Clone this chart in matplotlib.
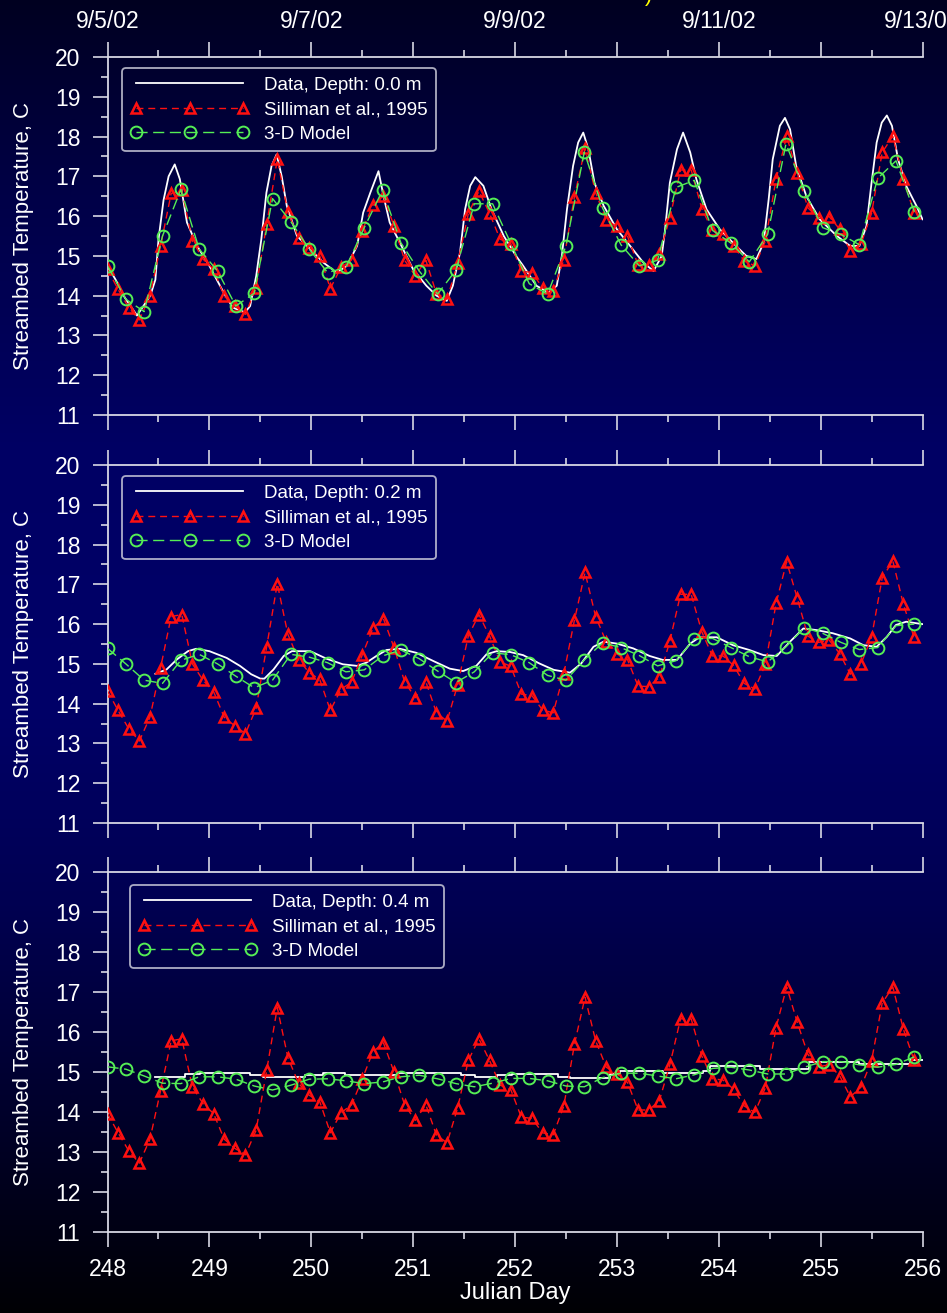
import numpy as np
import matplotlib
matplotlib.use("Agg")
import matplotlib.pyplot as plt
from matplotlib.lines import Line2D
from matplotlib.ticker import MultipleLocator

plt.rcParams['font.family'] = ['Liberation Sans', 'DejaVu Sans']

# ---------------- data ----------------
# Silliman et al. (1995) model, one point every 2.5 h from day 248
t_sil = 248 + np.arange(77) * 2.5 / 24
# 3-D model, one point every 0.18 day from day 248
t_mod = 248 + np.arange(45) * 0.18

# depth 0.0 m
top_data_t = [248.0, 248.08, 248.17, 248.29, 248.42, 248.47, 248.5, 248.55, 248.6, 248.66, 248.71, 248.78,
              248.88, 249.0, 249.14, 249.23, 249.35, 249.4, 249.46, 249.51, 249.56, 249.61, 249.66, 249.71,
              249.76, 249.86, 249.99, 250.12, 250.25, 250.35, 250.45, 250.51, 250.58, 250.66, 250.71, 250.77,
              250.87, 251.0, 251.13, 251.23, 251.33, 251.39, 251.46, 251.51, 251.56, 251.61, 251.69, 251.77,
              251.89, 252.01, 252.08, 252.21, 252.33, 252.41, 252.46, 252.51, 252.57, 252.62, 252.67, 252.72,
              252.78, 252.87, 253.0, 253.13, 253.26, 253.36, 253.44, 253.47, 253.52, 253.59, 253.65, 253.72,
              253.78, 253.88, 254.01, 254.17, 254.27, 254.37, 254.44, 254.49, 254.53, 254.6, 254.65, 254.7,
              254.76, 254.86, 254.99, 255.16, 255.29, 255.38, 255.45, 255.5, 255.55, 255.6, 255.65, 255.7,
              255.76, 255.84, 255.94, 256.0]
top_data_T = [14.75, 14.4, 13.95, 13.5, 14.0, 14.4, 15.4, 16.4, 17.0, 17.3, 16.93, 15.84,
              15.25, 14.75, 14.08, 13.7, 13.58, 13.74, 14.5, 15.42, 16.59, 17.26, 17.55, 17.0,
              16.26, 15.5, 15.17, 14.83, 14.58, 14.75, 15.25, 16.09, 16.59, 17.13, 16.5, 15.84,
              15.33, 14.66, 14.25, 14.0, 13.87, 14.25, 15.08, 16.17, 16.76, 16.98, 16.76, 16.17,
              15.5, 15.0, 14.75, 14.25, 14.08, 14.25, 15.0, 16.17, 17.26, 17.85, 18.1, 17.68,
              16.84, 16.26, 15.67, 15.25, 14.83, 14.62, 15.0, 15.59, 16.84, 17.68, 18.1, 17.6,
              16.93, 16.17, 15.67, 15.25, 15.0, 14.92, 15.33, 16.42, 17.43, 18.27, 18.47, 18.18,
              17.26, 16.5, 15.92, 15.5, 15.25, 15.25, 15.75, 16.84, 17.85, 18.35, 18.53, 18.27,
              17.43, 16.76, 16.26, 15.92]
top_sil = [14.66, 14.16, 13.70, 13.39, 13.99, 15.25, 16.57, 16.65, 15.38, 14.92,
           14.66, 13.99, 13.74, 13.53, 14.2, 15.79, 17.43, 16.1, 15.46, 15.21,
           15.0, 14.18, 14.71, 14.9, 15.63, 16.27, 16.5, 15.75, 14.89, 14.5,
           14.89, 14.05, 13.91, 14.83, 16.06, 16.63, 16.07, 15.42, 15.31,
           14.62, 14.58, 14.2, 14.12, 14.9, 16.49, 17.7, 16.59, 15.9, 15.74,
           15.5, 14.77, 14.77, 15.04, 15.96, 17.16, 17.16, 16.19, 15.64, 15.54,
           15.25, 14.87, 14.75, 15.38, 16.93, 18.01, 17.08, 16.21, 15.94, 15.99,
           15.67, 15.12, 15.3, 16.07, 17.6, 18.01, 16.93, 16.09]
top_mod = [14.75, 13.91, 13.6, 15.5, 16.67, 15.17, 14.62, 13.74, 14.06, 16.44,
           15.86, 15.17, 14.58, 14.71, 15.71, 16.65, 15.33, 14.62, 14.04, 14.64,
           16.31, 16.31, 15.31, 14.3, 14.04, 15.25, 17.61, 16.2, 15.28, 14.75,
           14.89, 16.72, 16.9, 15.64, 15.32, 14.85, 15.54, 17.82, 16.63, 15.71,
           15.54, 15.28, 16.95, 17.39, 16.11]

# depth 0.2 m
mid_data_t = [248.47, 248.58, 248.68, 248.79, 248.87, 249.0, 249.17, 249.3, 249.41, 249.5, 249.54, 249.63,
              249.73, 249.81, 249.99, 250.15, 250.31, 250.45, 250.54, 250.64, 250.74, 250.87, 251.03, 251.2,
              251.36, 251.49, 251.62, 251.72, 251.82, 251.95, 252.08, 252.24, 252.38, 252.54, 252.65, 252.77,
              252.87, 253.0, 253.16, 253.32, 253.45, 253.59, 253.72, 253.81, 253.98, 254.14, 254.3, 254.44,
              254.57, 254.7, 254.83, 254.96, 255.12, 255.29, 255.42, 255.55, 255.65, 255.74, 255.84, 256.0]
mid_data_T = [14.75, 14.86, 15.11, 15.32, 15.38, 15.32, 15.15, 14.95, 14.74, 14.63, 14.63, 14.86,
              15.2, 15.32, 15.32, 15.13, 14.99, 14.95, 15.03, 15.2, 15.35, 15.38, 15.28, 15.07,
              14.88, 14.82, 14.95, 15.24, 15.32, 15.3, 15.22, 15.01, 14.85, 14.78, 15.01, 15.43,
              15.56, 15.51, 15.39, 15.2, 15.1, 15.1, 15.51, 15.67, 15.67, 15.47, 15.35, 15.22,
              15.2, 15.56, 15.89, 15.85, 15.77, 15.64, 15.47, 15.43, 15.68, 15.98, 16.06, 16.0]
mid_sil = [14.32, 13.83, 13.37, 13.06, 13.66, 14.9, 16.19, 16.24, 15.0, 14.59,
           14.3, 13.66, 13.44, 13.25, 13.88, 15.43, 17.02, 15.74, 15.11, 14.78,
           14.61, 13.83, 14.36, 14.54, 15.22, 15.89, 16.14, 15.41, 14.55, 14.15,
           14.55, 13.77, 13.56, 14.48, 15.7, 16.24, 15.7, 15.05, 14.94,
           14.24, 14.2, 13.84, 13.77, 14.75, 16.1, 17.3, 16.19, 15.55, 15.25,
           15.11, 14.44, 14.43, 14.66, 15.58, 16.75, 16.75, 15.81, 15.2, 15.2,
           14.96, 14.51, 14.37, 14.99, 16.52, 17.57, 16.65, 15.7, 15.54, 15.6,
           15.26, 14.74, 15.0, 15.67, 17.16, 17.59, 16.5, 15.67]
mid_mod = [15.39, 15.0, 14.59, 14.51, 15.09, 15.24, 15.0, 14.69, 14.4, 14.59,
           15.24, 15.17, 15.03, 14.8, 14.85, 15.2, 15.35, 15.13, 14.82, 14.53,
           14.8, 15.28, 15.23, 15.03, 14.71, 14.59, 15.1, 15.53, 15.41, 15.21,
           14.95, 15.08, 15.63, 15.64, 15.41, 15.18, 15.05, 15.43, 15.91, 15.77,
           15.54, 15.36, 15.41, 15.96, 16.0]

# depth 0.4 m
bot_data_t = [248.47, 248.76, 248.91, 249.40, 249.53, 249.94, 250.12, 250.33, 250.84, 251.47, 251.61, 251.82,
              251.97, 252.42, 252.54, 252.93, 253.03, 253.45, 253.85, 253.91, 254.40, 254.89, 255.38, 255.88,
              256.0]
bot_data_T = [14.88, 14.94, 14.98, 14.92, 14.88, 14.92, 14.98, 14.92, 14.98, 14.92, 14.88, 14.92,
              14.96, 14.88, 14.84, 14.95, 15.03, 14.97, 15.03, 15.15, 15.08, 15.26, 15.19, 15.3,
              15.3]
bot_sil = [13.96, 13.48, 13.03, 12.72, 13.32, 14.53, 15.78, 15.83, 14.63, 14.21,
           13.96, 13.32, 13.09, 12.93, 13.54, 15.04, 16.61, 15.36, 14.72, 14.42,
           14.26, 13.48, 13.98, 14.18, 14.82, 15.5, 15.73, 15.0, 14.18, 13.79,
           14.18, 13.42, 13.23, 14.11, 15.29, 15.83, 15.29, 14.67, 14.56,
           13.87, 13.84, 13.48, 13.43, 14.15, 15.69, 16.87, 15.78, 15.12, 14.95,
           14.74, 14.05, 14.05, 14.28, 15.19, 16.33, 16.33, 15.4, 14.83, 14.8,
           14.57, 14.15, 13.99, 14.61, 16.11, 17.13, 16.24, 15.44, 15.13, 15.18,
           14.9, 14.38, 14.62, 15.28, 16.72, 17.13, 16.07, 15.3]
bot_mod = [15.13, 15.07, 14.9, 14.72, 14.71, 14.88, 14.88, 14.82, 14.65, 14.55,
           14.67, 14.82, 14.83, 14.78, 14.71, 14.75, 14.88, 14.92, 14.83, 14.71,
           14.63, 14.72, 14.84, 14.84, 14.78, 14.65, 14.63, 14.86, 14.97, 14.97,
           14.9, 14.83, 14.93, 15.09, 15.12, 15.05, 14.95, 14.95, 15.12, 15.26,
           15.26, 15.18, 15.12, 15.19, 15.38]

depth_labels = ["Data, Depth: 0.0 m", "Data, Depth: 0.2 m", "Data, Depth: 0.4 m"]
sil_label = "Silliman et al., 1995"
mod_label = "3-D Model"
date_ticks = [248, 250, 252, 254, 256]
date_labels = ["9/5/02", "9/7/02", "9/9/02", "9/11/02", "9/13/02"]
ylabel = "Streambed Temperature, C"
xlabel = "Julian Day"

# ---------------- style ----------------
W, H = 947, 1313
fig = plt.figure(figsize=(W / 100, H / 100), dpi=100)

# background gradient
bg = fig.add_axes([0, 0, 1, 1], zorder=-10)
rows = np.arange(H)
stops_y = [0, 200, 450, 700, 900, 1100, 1313]
stops_b = [32, 72, 100, 104, 82, 45, 4]
blue = np.interp(rows, stops_y, stops_b) / 255.0
img = np.zeros((H, 1, 3))
img[:, 0, 2] = blue
bg.imshow(img, aspect='auto', extent=[0, 1, 0, 1], interpolation='bilinear')
bg.set_axis_off()

AXC = '#d8d8e4'
WHITE = '#ffffff'
RED = '#ff1010'
GREEN = '#55ee55'

sil_style = dict(color=RED, lw=1.0, dashes=(5, 3.5), marker='^', markersize=7.5,
                 markerfacecolor='none', markeredgecolor=RED, markeredgewidth=1.8)
mod_style = dict(color=GREEN, lw=1.0, dashes=(8, 4), marker='o', markersize=8.5,
                 markerfacecolor='none', markeredgecolor=GREEN, markeredgewidth=1.4)

left = 107.5 / W
width = 815 / W
panels = [(57, 415), (465, 823), (872, 1232)]
legend_anchor = [(0.018, 0.969), (0.018, 0.969), (0.0276, 0.964)]

datasets = [(top_data_t, top_data_T, top_sil, top_mod, 'default'),
            (mid_data_t, mid_data_T, mid_sil, mid_mod, 'default'),
            (bot_data_t, bot_data_T, bot_sil, bot_mod, 'steps-post')]

for i, ((ytop, ybot), (dt, dT, sil, mod, ds)) in enumerate(zip(panels, datasets)):
    ax = fig.add_axes([left, 1 - ybot / H, width, (ybot - ytop) / H])
    ax.set_facecolor('none')
    ax.plot(dt, dT, color=WHITE, lw=1.3, drawstyle=ds, zorder=3)
    ax.plot(t_sil, sil, zorder=4, **sil_style)
    ax.plot(t_mod, mod, zorder=5, **mod_style)
    ax.set_xlim(248, 256)
    ax.set_ylim(11, 20)
    ax.spines['right'].set_visible(False)
    for s in ['left', 'top', 'bottom']:
        ax.spines[s].set_color(AXC)
        ax.spines[s].set_linewidth(1.3)
    ax.xaxis.set_major_locator(MultipleLocator(1))
    ax.xaxis.set_minor_locator(MultipleLocator(0.5))
    ax.yaxis.set_major_locator(MultipleLocator(1))
    ax.yaxis.set_minor_locator(MultipleLocator(0.5))
    ax.tick_params(axis='both', which='major', direction='out', length=10.5, width=1.2, color=AXC,
                   labelcolor=WHITE, labelsize=16.5)
    ax.tick_params(axis='both', which='minor', direction='out', length=5, width=1.2, color=AXC)
    ax.tick_params(axis='x', which='both', top=True, bottom=True)
    ax.tick_params(axis='x', which='major', labeltop=False, labelbottom=(i == 2), pad=8)
    ax.tick_params(axis='y', which='major', pad=9)
    ax.set_ylabel(ylabel, color=WHITE, fontsize=16, labelpad=15)
    if i == 2:
        ax.set_xlabel(xlabel, color=WHITE, fontsize=17, labelpad=1)
    if i == 0:
        secx = ax.secondary_xaxis('top')
        secx.set_xticks(date_ticks)
        secx.set_xticklabels(date_labels)
        secx.tick_params(length=0, pad=17, labelcolor=WHITE, labelsize=16.5)
        secx.spines['top'].set_visible(False)
    handles = [Line2D([], [], color=WHITE, lw=1.3),
               Line2D([], [], **sil_style),
               Line2D([], [], **mod_style)]
    leg = ax.legend(handles, [depth_labels[i], sil_label, mod_label], loc='upper left',
                    bbox_to_anchor=legend_anchor[i], borderaxespad=0, numpoints=3,
                    handlelength=6.3, handletextpad=0.8, labelspacing=0.4, borderpad=0.45,
                    fontsize=13.5, frameon=True, fancybox=True, labelcolor=WHITE)
    fr = leg.get_frame()
    fr.set_facecolor('none')
    fr.set_edgecolor(AXC)
    fr.set_linewidth(1.3)

# fragment of a yellow title that lies above the top edge
fig.text(649 / W, 1.0 + 4 / H, ")", color='#ffff00', fontsize=16, ha='center', va='center')

fig.savefig("out.png", dpi=100)
